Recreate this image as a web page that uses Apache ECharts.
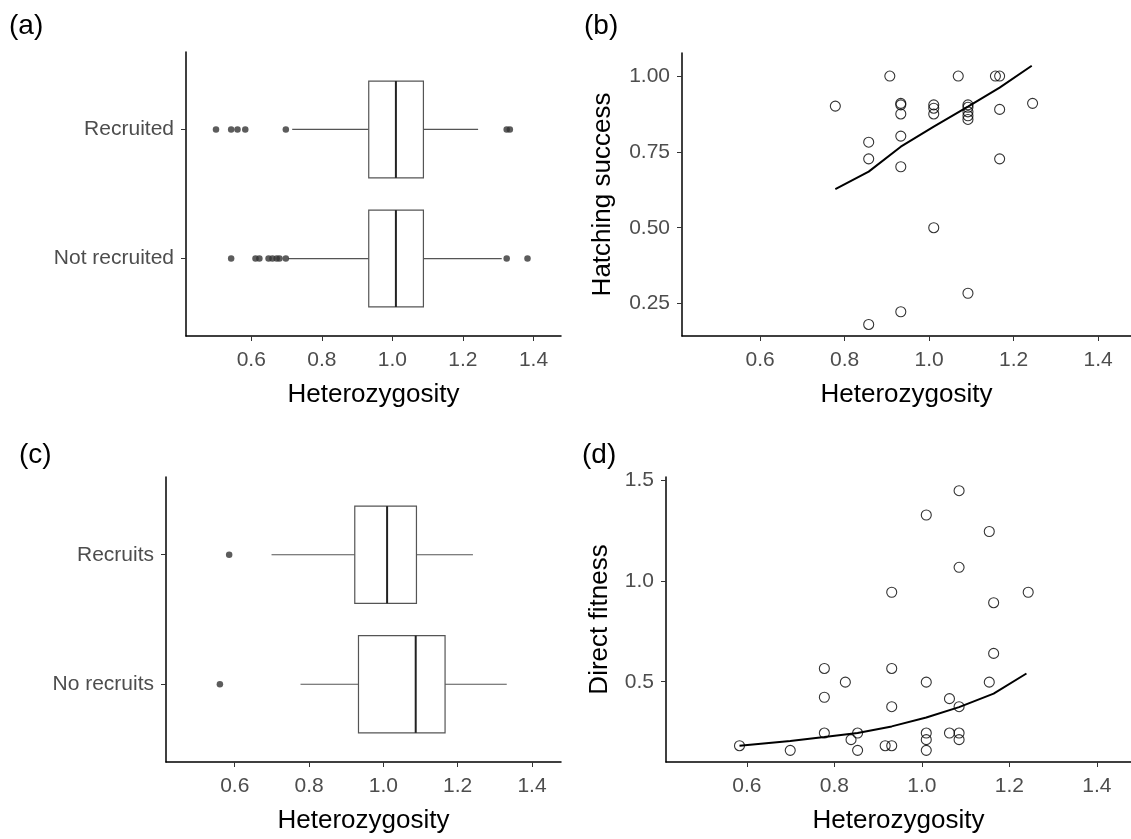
<!DOCTYPE html>
<html>
<head>
<meta charset="utf-8">
<title>Heterozygosity</title>
<script src="https://cdn.jsdelivr.net/npm/echarts@6/dist/echarts.min.js"></script>
<style>
html,body{margin:0;padding:0;background:#fff;}
#main{width:1131px;height:839px;}
</style>
</head>
<body>
<div id="main"></div>
<script>
// ---- data ----
var xTicks = [0.6, 0.8, 1.0, 1.2, 1.4];

// (a) box stats: [lower whisker, Q1, median, Q3, upper whisker]
var catsA = ['Not recruited', 'Recruited'];
var statsANot = [0.705, 0.933, 1.010, 1.088, 1.310];
var statsARec = [0.716, 0.933, 1.010, 1.088, 1.243];
var outANot = [0.543, 0.612, 0.623, 0.649, 0.660, 0.672, 0.680, 0.698, 1.324, 1.383];
var outARec = [0.500, 0.543, 0.561, 0.583, 0.698, 1.324, 1.333];

// (c)
var catsC = ['No recruits', 'Recruits'];
var statsCNo = [0.777, 0.933, 1.087, 1.166, 1.332];
var statsCRec = [0.699, 0.923, 1.010, 1.089, 1.241];
var outCNo = [0.560];
var outCRec = [0.585];

// (b) hatching success
var hetB = [0.907, 1.069, 1.157, 1.167, 0.778, 0.933, 0.933, 0.933, 1.011, 1.011, 1.011,
    1.092, 1.092, 1.092, 1.092, 1.092, 1.167, 1.245, 0.857, 0.933, 0.857, 1.167, 0.933,
    1.011, 1.092, 0.933, 0.857];
var hatchB = [1.0, 1.0, 1.0, 1.0, 0.901, 0.910, 0.905, 0.875, 0.905, 0.894, 0.875,
    0.905, 0.897, 0.882, 0.869, 0.857, 0.890, 0.910, 0.782, 0.802, 0.727, 0.727, 0.701,
    0.500, 0.284, 0.223, 0.181];
var fitXB = [0.778, 0.857, 0.933, 1.011, 1.092, 1.167, 1.243];
var fitYB = [0.627, 0.685, 0.767, 0.833, 0.899, 0.962, 1.034];

// (d) direct fitness
var hetD = [1.085, 1.010, 1.154, 1.085, 0.931, 1.243, 1.164, 1.164, 0.777, 0.931, 0.825,
    1.010, 1.154, 0.777, 1.063, 0.931, 1.085, 0.777, 0.853, 1.010, 1.063, 1.085, 0.838,
    1.010, 1.085, 0.583, 0.916, 0.931, 0.699, 0.853, 1.010];
var fitD = [1.450, 1.329, 1.247, 1.069, 0.945, 0.945, 0.893, 0.641, 0.566, 0.566, 0.498,
    0.498, 0.498, 0.423, 0.416, 0.376, 0.376, 0.245, 0.245, 0.245, 0.245, 0.245, 0.212,
    0.212, 0.212, 0.182, 0.182, 0.182, 0.159, 0.159, 0.159];
var fitXD = [0.583, 0.699, 0.777, 0.853, 0.931, 1.010, 1.085, 1.164, 1.239];
var fitYD = [0.182, 0.205, 0.225, 0.245, 0.278, 0.322, 0.374, 0.441, 0.541];

// ---- helpers ----
var FONT = 'Liberation Sans, Arial, sans-serif';
var BOX_W = 0.75;

function zip(xs, ys) {
    var out = [];
    for (var i = 0; i < xs.length; i++) out.push([xs[i], ys[i]]);
    return out;
}
function outlierData(vals, pos) {
    var out = [];
    for (var i = 0; i < vals.length; i++) out.push([vals[i], pos]);
    return out;
}

//箱线图自绘
function renderBox(params, api) {
    var pos = api.value(0);
    var pLo = api.coord([api.value(1), pos]);
    var pQ1 = api.coord([api.value(2), pos]);
    var pMed = api.coord([api.value(3), pos]);
    var pQ3 = api.coord([api.value(4), pos]);
    var pHi = api.coord([api.value(5), pos]);
    var h = api.size([0, BOX_W])[1];
    var y = pLo[1];
    return {
        type: 'group',
        children: [
            {type: 'line', shape: {x1: pLo[0], y1: y, x2: pQ1[0], y2: y}, style: {stroke: '#555', lineWidth: 1.2}},
            {type: 'line', shape: {x1: pQ3[0], y1: y, x2: pHi[0], y2: y}, style: {stroke: '#555', lineWidth: 1.2}},
            {type: 'rect', shape: {x: pQ1[0], y: y - h / 2, width: pQ3[0] - pQ1[0], height: h},
                style: {fill: '#fff', stroke: '#555', lineWidth: 1.2}},
            {type: 'line', shape: {x1: pMed[0], y1: y - h / 2, x2: pMed[0], y2: y + h / 2},
                style: {stroke: '#222', lineWidth: 2}}
        ]
    };
}

function makeXAxis(gi) {
    return {
        type: 'value', gridIndex: gi, min: 0.415, max: 1.478,
        name: 'Heterozygosity', nameLocation: 'middle', nameGap: 46,
        nameTextStyle: {fontSize: 26, color: '#000', fontFamily: FONT},
        axisLine: {show: true, onZero: false, lineStyle: {color: '#000', width: 1.5}},
        axisTick: {show: true, length: 5, customValues: xTicks, lineStyle: {color: '#333'}},
        axisLabel: {customValues: xTicks, fontSize: 21, color: '#4d4d4d', fontFamily: FONT, margin: 14,
            formatter: function (v) { return v.toFixed(1); }},
        splitLine: {show: false}
    };
}
function makeCatYAxis(gi, cats) {
    return {
        type: 'value', gridIndex: gi, min: 0.4, max: 2.6,
        axisLine: {show: true, onZero: false, lineStyle: {color: '#000', width: 1.5}},
        axisTick: {show: true, length: 5, customValues: [1, 2], lineStyle: {color: '#333'}},
        axisLabel: {customValues: [1, 2], fontSize: 21, color: '#4d4d4d', fontFamily: FONT, margin: 12,
            formatter: function (v) { return cats[Math.round(v) - 1]; }},
        splitLine: {show: false}
    };
}
function makeValYAxis(gi, name, min, max, ticks, dec, gap) {
    return {
        type: 'value', gridIndex: gi, min: min, max: max,
        name: name, nameLocation: 'middle', nameGap: gap,
        nameTextStyle: {fontSize: 26, color: '#000', fontFamily: FONT},
        axisLine: {show: true, onZero: false, lineStyle: {color: '#000', width: 1.5}},
        axisTick: {show: true, length: 5, customValues: ticks, lineStyle: {color: '#333'}},
        axisLabel: {customValues: ticks, fontSize: 21, color: '#4d4d4d', fontFamily: FONT, margin: 12,
            formatter: function (v) { return v.toFixed(dec); }},
        splitLine: {show: false}
    };
}
function boxSeries(gi, statsNot, statsRec) {
    return {
        type: 'custom', xAxisIndex: gi, yAxisIndex: gi, renderItem: renderBox,
        encode: {x: [1, 2, 3, 4, 5], y: 0},
        data: [[1].concat(statsNot), [2].concat(statsRec)], silent: true
    };
}
function outlierSeries(gi, data) {
    return {
        type: 'scatter', xAxisIndex: gi, yAxisIndex: gi, symbolSize: 6.5,
        itemStyle: {color: '#333'}, data: data, silent: true
    };
}
function pointSeries(gi, data) {
    return {
        type: 'scatter', xAxisIndex: gi, yAxisIndex: gi, symbolSize: 10,
        itemStyle: {color: 'rgba(255,255,255,0)', borderColor: '#000', borderWidth: 1.1},
        data: data, silent: true
    };
}
function fitSeries(gi, data) {
    return {
        type: 'line', xAxisIndex: gi, yAxisIndex: gi, showSymbol: false, symbol: 'none',
        lineStyle: {color: '#000', width: 2}, data: data, silent: true, z: 3
    };
}
function panelLabel(text, left, top) {
    return {text: text, left: left, top: top, padding: 0,
        textStyle: {fontSize: 28, fontWeight: 'normal', color: '#000', fontFamily: FONT}};
}

var chart = echarts.init(document.getElementById('main'));
var option = {
    backgroundColor: '#fff',
    animation: false,
    title: [
        panelLabel('(a)', 9, 12),
        panelLabel('(b)', 584, 12),
        panelLabel('(c)', 19, 441),
        panelLabel('(d)', 582, 441)
    ],
    grid: [
        {left: 186, top: 52, width: 375, height: 284},
        {left: 682, top: 53, width: 450, height: 283},
        {left: 166, top: 477, width: 395, height: 285},
        {left: 666, top: 477, width: 467, height: 285}
    ],
    xAxis: [makeXAxis(0), makeXAxis(1), makeXAxis(2), makeXAxis(3)],
    yAxis: [
        makeCatYAxis(0, catsA),
        makeValYAxis(1, 'Hatching success', 0.143, 1.076, [0.25, 0.5, 0.75, 1.0], 2, 66),
        makeCatYAxis(2, catsC),
        makeValYAxis(3, 'Direct fitness', 0.101, 1.518, [0.5, 1.0, 1.5], 1, 53)
    ],
    series: [
        boxSeries(0, statsANot, statsARec),
        outlierSeries(0, outlierData(outANot, 1).concat(outlierData(outARec, 2))),
        pointSeries(1, zip(hetB, hatchB)),
        fitSeries(1, zip(fitXB, fitYB)),
        boxSeries(2, statsCNo, statsCRec),
        outlierSeries(2, outlierData(outCNo, 1).concat(outlierData(outCRec, 2))),
        pointSeries(3, zip(hetD, fitD)),
        fitSeries(3, zip(fitXD, fitYD))
    ]
};
chart.setOption(option);
</script>
</body>
</html>
